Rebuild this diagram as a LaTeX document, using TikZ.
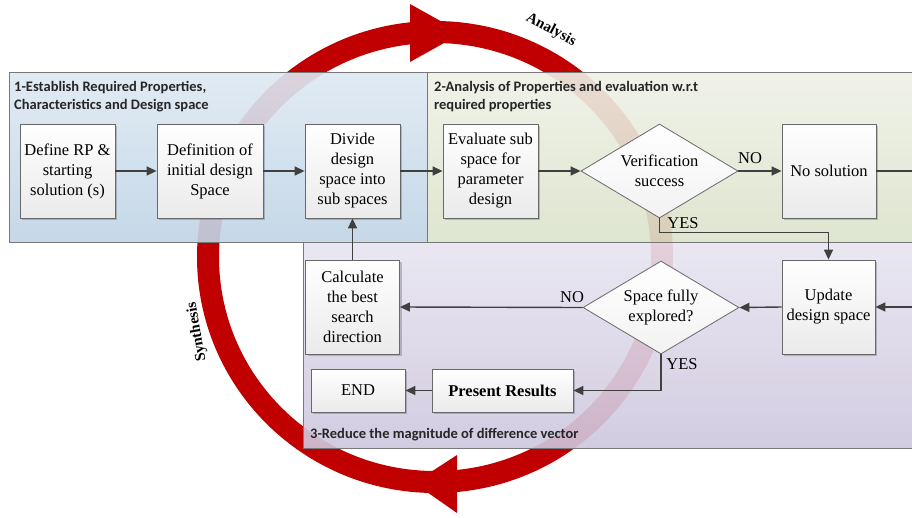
\documentclass[tikz,border=0pt]{standalone}
\usepackage{fontspec}
\setmainfont{Liberation Serif}
\newfontfamily\titlefont{Carlito}
\usetikzlibrary{arrows.meta,shapes.geometric,shadows,calc}

\definecolor{ringred}{RGB}{192,0,0}
\definecolor{linegray}{RGB}{64,64,64}
\definecolor{boxborder}{RGB}{105,105,105}
\definecolor{pOneTop}{RGB}{222,233,243}
\definecolor{pOneBot}{RGB}{192,212,230}
\definecolor{pTwoTop}{RGB}{238,241,230}
\definecolor{pTwoBot}{RGB}{219,227,203}
\definecolor{pThrTop}{RGB}{232,229,241}
\definecolor{pThrBot}{RGB}{206,199,222}
\definecolor{panelborder}{RGB}{120,120,120}

\begin{document}
\begin{tikzpicture}[x=1pt,y=-1pt,
  bodyfont/.style={font=\fontsize{16.5}{20}\selectfont},
  panel/.style={draw=panelborder, line width=1pt, fill opacity=0.91},
  box/.style={bodyfont, draw=boxborder, line width=0.8pt, top color=white, bottom color=black!8,
    drop shadow={shadow xshift=2pt,shadow yshift=-2pt,opacity=0.2,fill=black},
    align=center, inner sep=0pt},
  dia/.style={bodyfont, shape=diamond, draw=boxborder, line width=0.8pt, top color=white, bottom color=black!5,
    align=center, inner sep=0pt, shape aspect=1.67},
  conn/.style={draw=linegray, line width=1.4pt, -{Triangle[length=10pt,width=9pt]}},
  plain/.style={draw=linegray, line width=1.4pt},
  lbl/.style={bodyfont, inner sep=0pt},
  ttl/.style={font=\titlefont\bfseries\fontsize{14.5}{17.5}\selectfont, align=left, inner sep=0pt, text=black!85},
  arclbl/.style={font=\fontsize{15}{18}\selectfont\bfseries, inner sep=0pt}
]
\useasboundingbox (0,0) rectangle (912,517);
\clip (0,0) rectangle (912,517);

% big cycle ring
\draw[ringred, line width=22pt] (435,257) ellipse [x radius=227pt, y radius=225pt];
\fill[ringred] (410,4) -- (462,33) -- (410,62) -- cycle;
\fill[ringred] (457,455) -- (414,483) -- (457,513) -- cycle;

% panels
\path[panel, top color=pThrTop, bottom color=pThrBot] (303,242) rectangle (925,448);
\path[panel, top color=pOneTop, bottom color=pOneBot] (9,72) rectangle (427,242);
\path[panel, top color=pTwoTop, bottom color=pTwoBot] (427,72) rectangle (925,242);

% panel titles
\node[ttl, anchor=north west] (t1) at (14,81.5) {1-Establish Required Properties,\\Characteristics and Design space};
\node[ttl, anchor=north west] (t2) at (434,81.5) {2-Analysis of Properties and evaluation w.r.t\\required properties};
\node[ttl, anchor=base west] (t3) at (310,438) {3-Reduce the magnitude of difference vector};

% boxes
\node[box, minimum width=95pt, minimum height=94pt] (define) at (67.5,171) {Define RP \&\\starting\\solution (s)};
\node[box, minimum width=106pt, minimum height=94pt] (definit) at (210,171) {Definition of\\initial design\\Space};
\node[box, minimum width=95pt, minimum height=94pt] (divide) at (352.5,171) {Divide\\design\\space into\\sub spaces};
\node[box, minimum width=95pt, minimum height=94pt] (evaluate) at (490.5,171) {Evaluate sub\\space for\\parameter\\design};
\node[dia, minimum width=157pt, minimum height=94pt] (verif) at (659.5,171) {Verification\\success};
\node[box, minimum width=94pt, minimum height=94pt] (nosol) at (829,171) {No solution};
\node[box, minimum width=94pt, minimum height=94pt] (calc) at (352.5,307) {Calculate\\the best\\search\\direction};
\node[dia, minimum width=156pt, minimum height=93pt] (space) at (661,307.5) {Space fully\\explored?};
\node[box, minimum width=93pt, minimum height=94pt] (update) at (828.5,307) {Update\\design space};
\node[box, minimum width=141pt, minimum height=43pt, font=\fontsize{16.5}{20}\selectfont\bfseries] (present) at (502.5,390.5) {Present Results};
\node[box, minimum width=94pt, minimum height=43pt] (endnode) at (358,390.5) {END};

% free ends at the right border
\coordinate (nsR) at (912,171);
\coordinate (upR) at (912,307);

% connectors
\draw[conn] (define) -- (definit);
\draw[conn] (definit) -- (divide);
\draw[conn] (divide) -- (evaluate);
\draw[conn] (evaluate) -- (verif.west);
\draw[conn] (verif.east) -- (nosol);
\draw[plain] (nosol.east) -- (nsR);
\draw[conn] (verif.south) -- ++(0,14) -| (update.north);
\draw[conn] (upR) -- (update.east);
\draw[conn] (update.west) -- (space.east);
\draw[conn] (space.west) -- (calc.east);
\draw[conn] (calc.north) -- (divide.south);
\draw[conn] (space.south) |- (present.east);
\draw[conn] (present.west) -- (endnode.east);

% connector labels
\node[lbl] (no1) at (750,158) {NO};
\node[lbl] (yes1) at (683,223) {YES};
\node[lbl] (no2) at (572,297) {NO};
\node[lbl] (yes2) at (682,364) {YES};

% cycle labels
\node[arclbl, rotate=-28] (analysis) at (551,30) {Analysis};
\node[arclbl, rotate=100] (synthesis) at (197,332) {Synthesis};
\end{tikzpicture}
\end{document}
